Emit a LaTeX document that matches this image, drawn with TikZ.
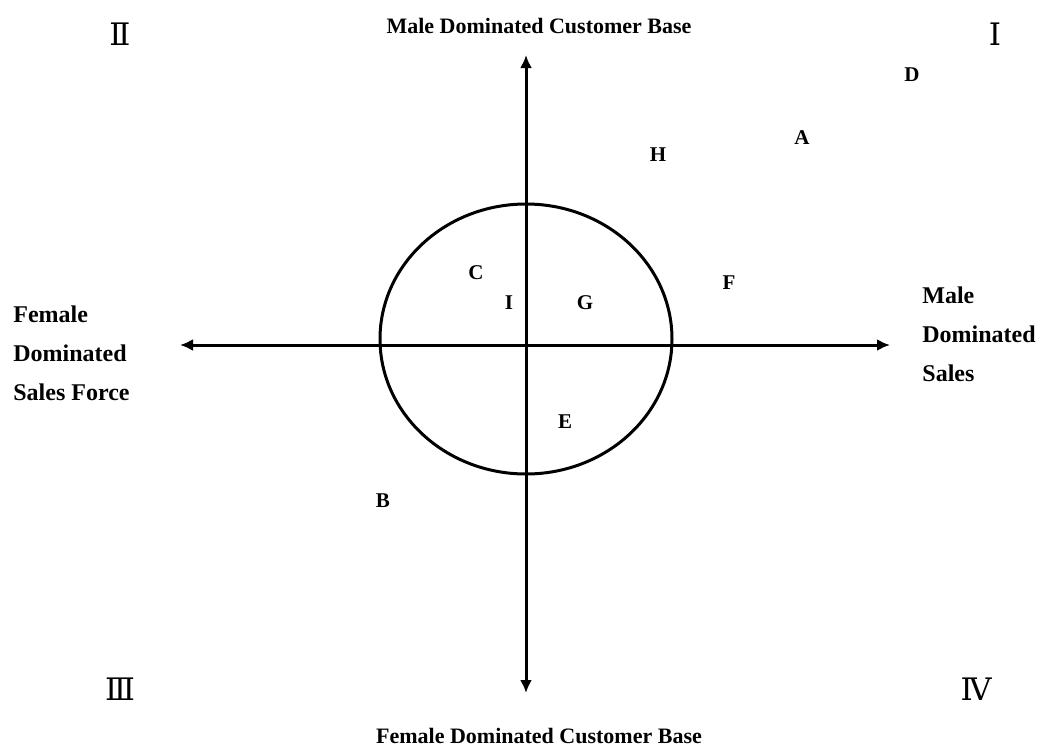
\documentclass[tikz,border=0pt]{standalone}
\usepackage{fontspec}
\setmainfont{Liberation Serif}
\newfontfamily\romanfont{DejaVu Serif}
\usepackage{tikz}
\usetikzlibrary{arrows.meta}

\begin{document}
\begin{tikzpicture}[x=0.5pt,y=-0.5pt,
    axis/.style={line width=1.5pt,{Latex[length=6.5pt,width=6pt]}-{Latex[length=6.5pt,width=6pt]}},
    title/.style={font=\bfseries\fontsize{11}{13}\selectfont},
    side/.style={font=\bfseries\fontsize{12}{19.5}\selectfont,align=left,anchor=west,inner sep=0pt},
    firm/.style={font=\bfseries\fontsize{10.5}{12}\selectfont},
    quad/.style={font=\romanfont\fontsize{15.5}{18}\selectfont}]
  \useasboundingbox (0,0) rectangle (1040,751);

  % axes
  \coordinate (top) at (526,55);
  \coordinate (bottom) at (526,693);
  \coordinate (left) at (180,345);
  \coordinate (right) at (890,345);
  \draw[axis] (bottom) -- (top);
  \draw[axis] (left) -- (right);

  % circle round the centre
  \coordinate (centre) at (526,339);
  \draw[line width=1.5pt] (centre) ellipse [x radius=146, y radius=135];

  % axis labels
  \node[title] (male base) at (539,26) {Male Dominated Customer Base};
  \node[title] (female base) at (539,736) {Female Dominated Customer Base};
  \node[side] (female sales) at (13,353) {Female\\Dominated\\Sales Force};
  \node[side] (male sales) at (922,334) {Male\\Dominated\\Sales};

  % quadrants
  \node[quad] (q1) at (995,34) {Ⅰ};
  \node[quad] (q2) at (120,34) {Ⅱ};
  \node[quad] (q3) at (120,689) {Ⅲ};
  \node[quad] (q4) at (976,689) {Ⅳ};

  % firms
  \node[firm] (D) at (912,75) {D};
  \node[firm] (A) at (802,138) {A};
  \node[firm] (H) at (658,155) {H};
  \node[firm] (C) at (476,273) {C};
  \node[firm] (F) at (729,283) {F};
  \node[firm] (I) at (509,303) {I};
  \node[firm] (G) at (585,303) {G};
  \node[firm] (E) at (565,422) {E};
  \node[firm] (B) at (383,501) {B};
\end{tikzpicture}
\end{document}
